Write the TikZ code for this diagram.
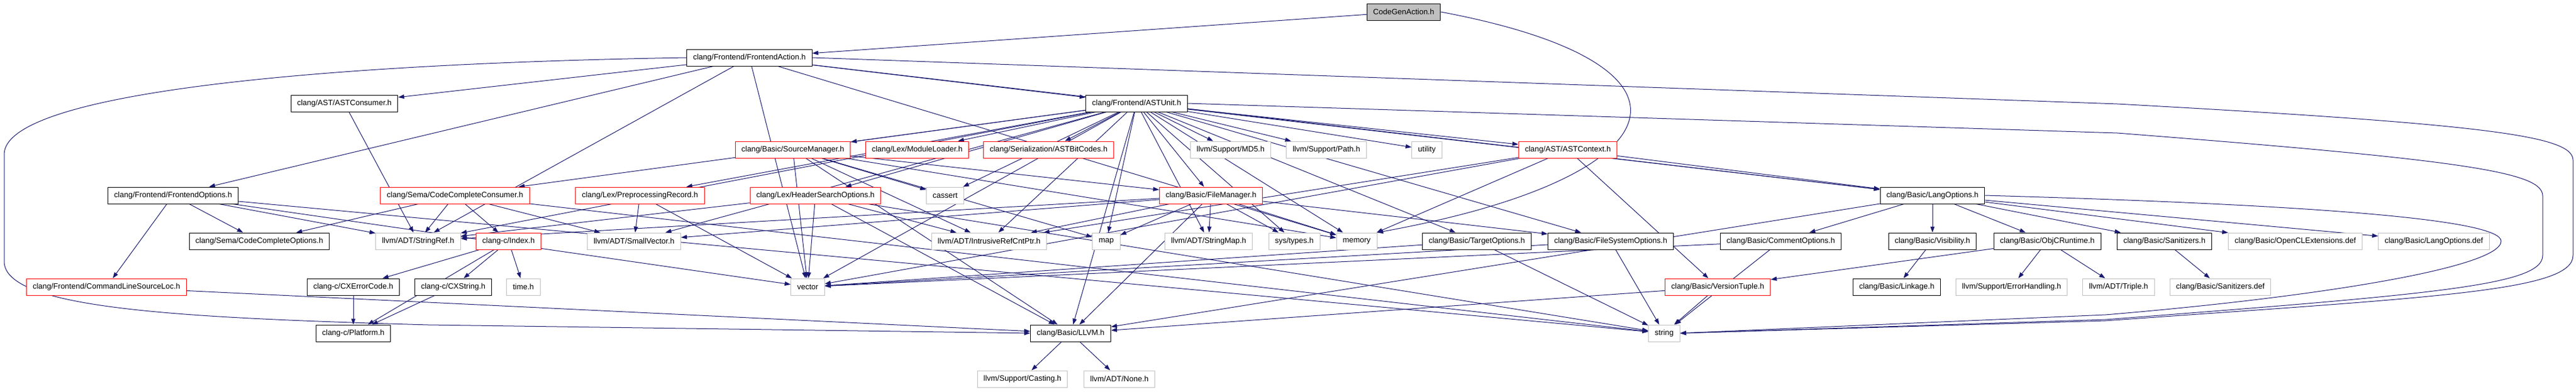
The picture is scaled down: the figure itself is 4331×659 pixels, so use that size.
\documentclass[tikz,border=0pt]{standalone}
\usepackage{fontspec}
\setmainfont{Liberation Sans}
\usetikzlibrary{arrows.meta, backgrounds}
\definecolor{inclblue}{HTML}{191970}
\definecolor{sysgray}{HTML}{BFBFBF}
\definecolor{mainfill}{HTML}{BFBFBF}

\begin{document}
\begin{tikzpicture}[x=1pt, y=-1pt,
    hdr/.style={draw=black, line width=1pt, fill=white, minimum height=28pt,
        inner xsep=10.5pt, inner ysep=0pt, font=\fontsize{13}{15}\selectfont},
    hdrred/.style={hdr, draw=red},
    hdrsys/.style={hdr, draw=sysgray},
    hdrmain/.style={hdr, fill=mainfill},
    incl/.style={draw=inclblue, line width=1pt, -{Triangle[length=10pt, width=7pt]}}]
    \useasboundingbox (0,0) rectangle (4331,659);

    % top rows
    \node (codegen) [hdrmain] at (2360,20) {CodeGenAction.h};
    \node (faction) [hdr] at (1260,97) {clang/Frontend/FrontendAction.h};
    \node (astcons) [hdr] at (579,174) {clang/AST/ASTConsumer.h};
    \node (astunit) [hdr] at (1911,174) {clang/Frontend/ASTUnit.h};

    % row 252
    \node (srcmgr) [hdrred] at (1333,252) {clang/Basic/SourceManager.h};
    \node (modload) [hdrred] at (1542,252) {clang/Lex/ModuleLoader.h};
    \node (bitcodes) [hdrred] at (1763,252) {clang/Serialization/ASTBitCodes.h};
    \node (mdfive) [hdrsys] at (2069,252) {llvm/Support/MD5.h};
    \node (pathh) [hdrsys] at (2230,252) {llvm/Support/Path.h};
    \node (utility) [hdrsys] at (2399,252) {utility};
    \node (astctx) [hdrred] at (2636,252) {clang/AST/ASTContext.h};

    % row 329
    \node (feopts) [hdr] at (291,329) {clang/Frontend/FrontendOptions.h};
    \node (ccconsumer) [hdrred] at (765,329) {clang/Sema/CodeCompleteConsumer.h};
    \node (pprec) [hdrred] at (1076,329) {clang/Lex/PreprocessingRecord.h};
    \node (hsopts) [hdrred] at (1371,329) {clang/Lex/HeaderSearchOptions.h};
    \node (cassert) [hdrsys] at (1589,329) {cassert};
    \node (filemgr) [hdrred] at (2036,329) {clang/Basic/FileManager.h};
    \node (langopts) [hdr] at (3249,329) {clang/Basic/LangOptions.h};

    % row 406
    \node (ccopts) [hdr] at (436,406) {clang/Sema/CodeCompleteOptions.h};
    \node (strref) [hdrsys] at (703,406) {llvm/ADT/StringRef.h};
    \node (indexh) [hdrred] at (855,406) {clang-c/Index.h};
    \node (smallvec) [hdrsys] at (1066,406) {llvm/ADT/SmallVector.h};
    \node (irc) [hdrsys] at (1663,406) {llvm/ADT/IntrusiveRefCntPtr.h};
    \node (maph) [hdrsys] at (1860,406) {map};
    \node (strmap) [hdrsys] at (2032,406) {llvm/ADT/StringMap.h};
    \node (systypes) [hdrsys] at (2176,406) {sys/types.h};
    \node (memory) [hdrsys] at (2281,406) {memory};
    \node (tgtopts) [hdr] at (2483,406) {clang/Basic/TargetOptions.h};
    \node (fsopts) [hdr] at (2708,406) {clang/Basic/FileSystemOptions.h};
    \node (commentopts) [hdr] at (2994,406) {clang/Basic/CommentOptions.h};
    \node (visib) [hdr] at (3249,406) {clang/Basic/Visibility.h};
    \node (objcrt) [hdr] at (3442,406) {clang/Basic/ObjCRuntime.h};
    \node (sanit) [hdr] at (3639,406) {clang/Basic/Sanitizers.h};
    \node (opencl) [hdrsys] at (3859,406) {clang/Basic/OpenCLExtensions.def};
    \node (langdef) [hdrsys] at (4092,406) {clang/Basic/LangOptions.def};

    % row 483
    \node (cmdloc) [hdrred] at (179,483) {clang/Frontend/CommandLineSourceLoc.h};
    \node (cxerror) [hdr] at (594,483) {clang-c/CXErrorCode.h};
    \node (cxstring) [hdr] at (762,483) {clang-c/CXString.h};
    \node (timeh) [hdrsys] at (880,483) {time.h};
    \node (vector) [hdrsys] at (1358,483) {vector};
    \node (vtuple) [hdrred] at (2888,483) {clang/Basic/VersionTuple.h};
    \node (linkage) [hdr] at (3189,483) {clang/Basic/Linkage.h};
    \node (errhand) [hdrsys] at (3382,483) {llvm/Support/ErrorHandling.h};
    \node (triple) [hdrsys] at (3562,483) {llvm/ADT/Triple.h};
    \node (sandef) [hdrsys] at (3733,483) {clang/Basic/Sanitizers.def};

    % bottom rows
    \node (platform) [hdr] at (594,561) {clang-c/Platform.h};
    \node (llvmh) [hdr] at (1800,561) {clang/Basic/LLVM.h};
    \node (stringh) [hdrsys] at (2798,561) {string};
    \node (casting) [hdrsys] at (1719,638) {llvm/Support/Casting.h};
    \node (noneh) [hdrsys] at (1882,638) {llvm/ADT/None.h};

    \begin{scope}[on background layer]
    \foreach \a/\b in {codegen/faction,
        faction/astcons, faction/feopts, faction/astunit, faction/langopts, faction/strref, faction/memory, faction/vector,
        astcons/strref,
        feopts/cmdloc, feopts/ccopts, feopts/strref, feopts/vector, feopts/stringh,
        cmdloc/llvmh,
        astunit/srcmgr, astunit/modload, astunit/bitcodes, astunit/mdfive, astunit/pathh, astunit/utility,
        astunit/astctx, astunit/langopts, astunit/filemgr, astunit/fsopts, astunit/tgtopts, astunit/hsopts,
        astunit/pprec, astunit/ccconsumer, astunit/irc, astunit/smallvec, astunit/strmap, astunit/strref,
        astunit/cassert, astunit/maph, astunit/memory, astunit/systypes, astunit/vector, astunit/llvmh,
        srcmgr/filemgr, srcmgr/llvmh, srcmgr/irc, srcmgr/cassert, srcmgr/maph, srcmgr/memory, srcmgr/vector,
        filemgr/fsopts, filemgr/llvmh, filemgr/irc, filemgr/smallvec, filemgr/strmap, filemgr/strref,
        filemgr/maph, filemgr/memory, filemgr/systypes,
        hsopts/strref, hsopts/vector, hsopts/llvmh, hsopts/irc, hsopts/stringh,
        pprec/smallvec, pprec/vector,
        ccconsumer/ccopts, ccconsumer/strref, ccconsumer/indexh, ccconsumer/smallvec, ccconsumer/stringh,
        indexh/cxerror, indexh/cxstring, indexh/timeh, indexh/platform,
        cxerror/platform, cxstring/platform,
        astctx/langopts, astctx/vtuple, astctx/irc, astctx/memory, astctx/vector,
        langopts/commentopts, langopts/llvmh, langopts/visib, langopts/objcrt, langopts/sanit,
        langopts/opencl, langopts/langdef,
        commentopts/stringh, commentopts/vector,
        visib/linkage,
        objcrt/vtuple, objcrt/errhand, objcrt/triple,
        sanit/sandef,
        vtuple/stringh, vtuple/llvmh,
        tgtopts/stringh, tgtopts/vector,
        fsopts/stringh, fsopts/vector,
        llvmh/casting, llvmh/noneh}
        \draw [incl] (\a) -- (\b);
    % long bends round the outside
    \draw [incl] (codegen.east) .. controls (2900,110) and (2820,300) .. (memory.north east);
    \draw [incl] (faction.west) .. controls (500,108) and (7,160) .. (7,260) -- (7,440)
        .. controls (7,520) and (300,535) .. (720,547) -- (llvmh.west);
    \draw [incl] (faction.east) -- (3560,175) .. controls (4200,210) and (4326,230) .. (4326,270) -- (4326,430)
        .. controls (4326,490) and (4100,500) .. (3540,540) -- (stringh.east);
    \draw [incl] (astunit.east) -- (3560,224) .. controls (4150,270) and (4275,290) .. (4275,330) -- (4275,430)
        .. controls (4275,480) and (4100,495) .. (3540,538) -- (stringh.east);
    \draw [incl] (langopts.east) .. controls (3900,345) and (4205,370) .. (4205,406)
        .. controls (4205,450) and (3900,500) .. (3540,530) -- (stringh.east);
    \end{scope}
\end{tikzpicture}
\end{document}
